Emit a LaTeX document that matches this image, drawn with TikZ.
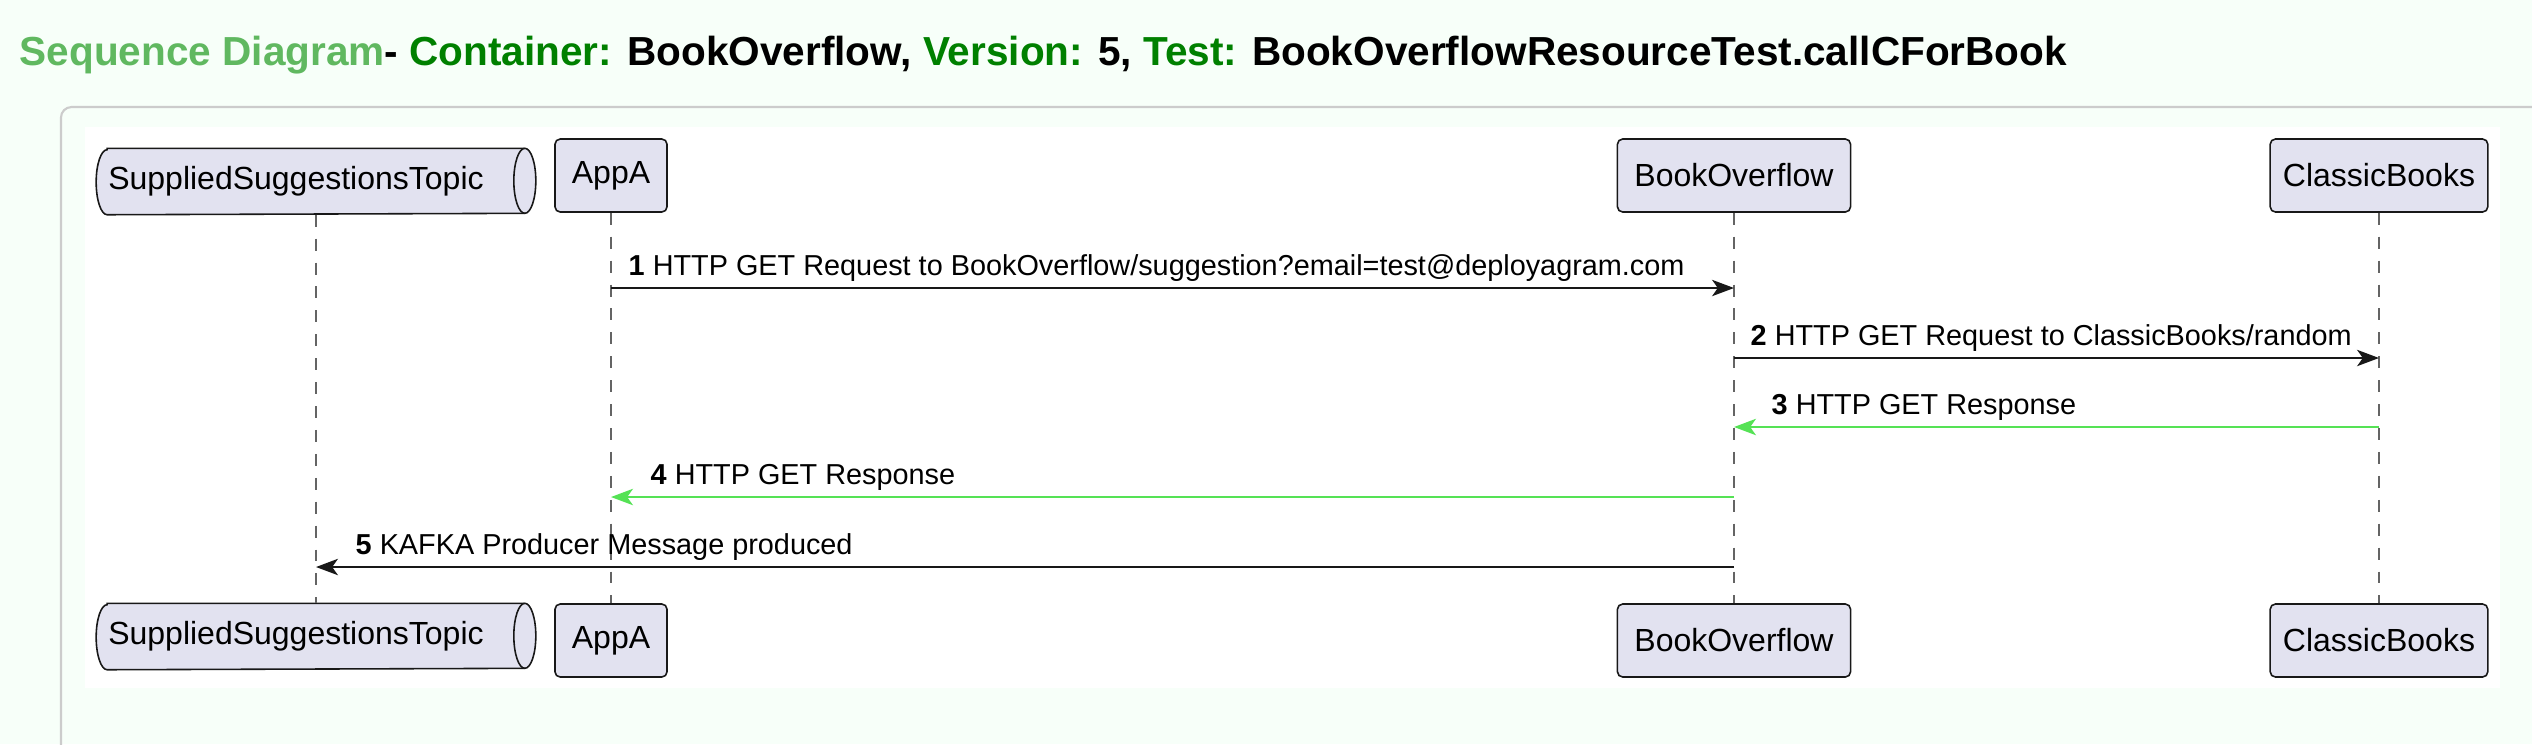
\documentclass[tikz,border=0pt]{standalone}
\usepackage{fontspec}
\setmainfont{Liberation Sans}
\usetikzlibrary{backgrounds,arrows.meta}
\definecolor{pagebg}{RGB}{247,255,249}
\definecolor{panelclr}{RGB}{204,204,204}
\definecolor{actorbg}{RGB}{226,226,240}
\definecolor{lineclr}{RGB}{24,24,24}
\definecolor{lifeclr}{RGB}{100,100,100}
\definecolor{replyclr}{RGB}{85,226,85}
\definecolor{titlelight}{RGB}{96,184,96}
\definecolor{titledark}{RGB}{0,128,0}

\begin{document}
\begin{tikzpicture}[x=0.01cm, y=0.01cm]
		\tikzstyle{every node}+=[inner sep=0pt]
		\tikzstyle{actor}=[draw=lineclr, fill=actorbg, line width=0.45pt, rounded corners=1.5pt, minimum height=0.73cm, font=\fontsize{9.1}{11}\selectfont]
		\tikzstyle{queuebox}=[minimum width=4.38cm, minimum height=0.65cm, font=\fontsize{9.1}{11}\selectfont]
		\tikzstyle{queueline}=[draw=lineclr, line width=0.45pt]
		\tikzstyle{lifeline}=[lifeclr, line width=0.45pt, dash pattern=on 3.4pt off 3.4pt]
		\tikzstyle{call}=[lineclr, line width=0.8pt, -{Stealth[length=6.2pt,width=4.6pt,inset=1.6pt]}]
		\tikzstyle{reply}=[call, replyclr]
		\tikzstyle{msglbl}=[anchor=base west, font=\fontsize{8.2}{10}\selectfont]
		\useasboundingbox (0,0) rectangle (2532,-744);
		\begin{scope}[on background layer]
			\fill [pagebg] (0,0) rectangle (2532,-744);
			\draw [panelclr, line width=0.6pt, rounded corners=3pt] (61,-760) -- (61,-107) -- (2560,-107);
			\fill [white] (85,-127) rectangle (2500,-688);
		\end{scope}
		\node [anchor=base west, font=\fontsize{11.53}{14}\selectfont\bfseries] (title) at (19,-65) {{\color{titlelight}Sequence Diagram}- {\color{titledark}Container:} BookOverflow, {\color{titledark}Version:} 5, {\color{titledark}Test:} BookOverflowResourceTest.callCForBook};
		\node [queuebox] (topicTop) at (316,-181.5) {SuppliedSuggestionsTopic\rule{0.4cm}{0pt}};
		\node [actor, minimum width=1.12cm] (appTop) at (611,-175.5) {AppA};
		\node [actor, minimum width=2.33cm] (bookTop) at (1734,-175.5) {BookOverflow};
		\node [actor, minimum width=2.175cm] (classicTop) at (2379,-175.5) {ClassicBooks};
		\node [queuebox] (topicBot) at (316,-636.5) {SuppliedSuggestionsTopic\rule{0.4cm}{0pt}};
		\node [actor, minimum width=1.12cm] (appBot) at (611,-640.5) {AppA};
		\node [actor, minimum width=2.33cm] (bookBot) at (1734,-640.5) {BookOverflow};
		\node [actor, minimum width=2.175cm] (classicBot) at (2379,-640.5) {ClassicBooks};
		\begin{scope}[on background layer]
			\foreach \q in {topicTop, topicBot} {
				\filldraw [queueline, fill=actorbg] ([xshift=0.11cm]\q.north west) -- ([xshift=-0.11cm]\q.north east) arc [start angle=90, end angle=-90, x radius=0.11cm, y radius=0.325cm] -- ([xshift=0.11cm]\q.south west) arc [start angle=270, end angle=90, x radius=0.11cm, y radius=0.325cm] -- cycle;
				\draw [queueline] ([xshift=-0.11cm]\q.north east) arc [start angle=90, end angle=270, x radius=0.11cm, y radius=0.325cm];
			}
		\end{scope}
		\draw [lifeline] (topicTop.south) -- (topicBot.north);
		\draw [lifeline] (appTop.south) -- (appBot.north);
		\draw [lifeline] (bookTop.south) -- (bookBot.north);
		\draw [lifeline] (classicTop.south) -- (classicBot.north);
		\coordinate (r1) at (0,-288);
		\coordinate (r2) at (0,-358);
		\coordinate (r3) at (0,-427);
		\coordinate (r4) at (0,-497);
		\coordinate (r5) at (0,-567);
		\draw [call] (appTop.south |- r1) -- (bookTop.south |- r1);
		\node [msglbl] (lbl1) at (628,-275) {\textbf{1} HTTP GET Request to BookOverflow/suggestion?email=test@deployagram.com};
		\draw [call] (bookTop.south |- r2) -- (classicTop.south |- r2);
		\node [msglbl] (lbl2) at (1750,-345) {\textbf{2} HTTP GET Request to ClassicBooks/random};
		\draw [reply] (classicTop.south |- r3) -- (bookTop.south |- r3);
		\node [msglbl] (lbl3) at (1771,-414) {\textbf{3} HTTP GET Response};
		\draw [reply] (bookTop.south |- r4) -- (appTop.south |- r4);
		\node [msglbl] (lbl4) at (650,-484) {\textbf{4} HTTP GET Response};
		\draw [call] (bookTop.south |- r5) -- (topicTop.south |- r5);
		\node [msglbl] (lbl5) at (355,-554) {\textbf{5} KAFKA Producer Message produced};
	\end{tikzpicture}
\end{document}
